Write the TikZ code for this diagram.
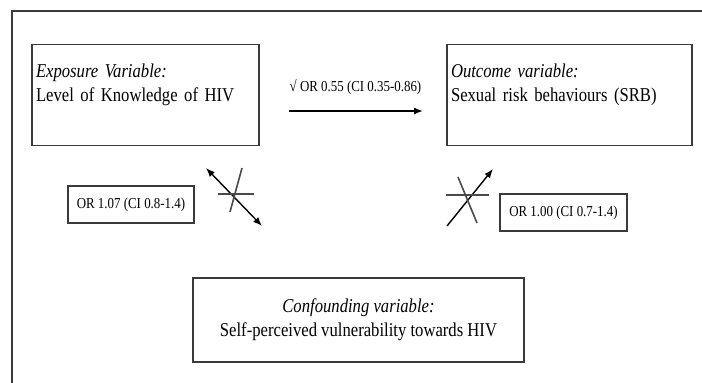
\documentclass[tikz,border=0pt]{standalone}
\usepackage{fontspec}
\setmainfont[FakeStretch=0.85]{Liberation Serif}
\usetikzlibrary{arrows.meta}
\definecolor{boxline}{HTML}{3A3A3A}
\definecolor{crossline}{HTML}{4A4A4A}
\tikzset{
  varbox/.style={draw=boxline, line width=1.2pt, inner xsep=4pt, inner ysep=0pt,
    font=\fontsize{19.6}{24}\selectfont},
  orbox/.style={draw=boxline, line width=1.2pt, inner sep=0pt,
    font=\fontsize{15.2}{17}\selectfont},
  orlabel/.style={inner sep=0pt, font=\fontsize{15.2}{17}\selectfont},
  arr/.style={-{Latex[length=9pt,width=7pt]}, line width=1.4pt},
  darr/.style={{Latex[length=9pt,width=7pt]}-{Latex[length=9pt,width=7pt]}, line width=1.4pt},
  nocross/.style={draw=crossline, line width=1.6pt},
  frameline/.style={draw=boxline, line width=1.2pt}
}
\begin{document}
\begin{tikzpicture}[x=1pt,y=-1pt]
\useasboundingbox (0,0) rectangle (702,383);
\fill[white] (0,0) rectangle (702,383);
% outer frame (top and left edges)
\coordinate (ftr) at (702,11);
\coordinate (ftl) at (12,11);
\coordinate (fbl) at (12,383);
\draw[frameline] (ftr) -- (ftl) -- (fbl);

% variable boxes
\node[varbox, minimum width=227pt, minimum height=101pt, text width=219pt, align=left]
  (expo) at (145.5,95) {\textit{Exposure Variable:}\\Level of Knowledge of HIV\\\mbox{}};
\node[varbox, minimum width=245pt, minimum height=101pt, text width=237pt, align=left]
  (outc) at (569.5,95) {\textit{Outcome variable:}\\Sexual risk behaviours (SRB)\\\mbox{}};
\node[varbox, minimum width=331pt, minimum height=84pt, align=center]
  (conf) at (358.5,320) {\textit{Confounding variable:}\\Self-perceived vulnerability towards HIV};

% OR boxes
\node[orbox, minimum width=126pt, minimum height=37pt] (orl) at (131,204.5) {OR 1.07 (CI 0.8-1.4)};
\node[orbox, minimum width=127pt, minimum height=37pt] (orr) at (563.5,212.5) {OR 1.00 (CI 0.7-1.4)};

% main arrow and its label
\node[orlabel] (orm) at (355.5,87) {√ OR 0.55 (CI 0.35-0.86)};
\coordinate (ma) at (289,111);
\coordinate (mb) at (423,111);
\draw[arr] (ma) -- (mb);

% left crossed double arrow
\coordinate (la) at (206,168);
\coordinate (lb) at (262,226);
\draw[darr] (la) -- (lb);
\coordinate (lh1) at (218,194);
\coordinate (lh2) at (254,194);
\coordinate (ls1) at (242,168);
\coordinate (ls2) at (230,212);
\draw[nocross] (lh1) -- (lh2);
\draw[nocross] (ls1) -- (ls2);

% right crossed arrow
\coordinate (ra) at (447,226);
\coordinate (rb) at (493,169);
\draw[arr] (ra) -- (rb);
\coordinate (rh1) at (446,195);
\coordinate (rh2) at (489,195);
\coordinate (rs1) at (458,177);
\coordinate (rs2) at (477,223);
\draw[nocross] (rh1) -- (rh2);
\draw[nocross] (rs1) -- (rs2);
\end{tikzpicture}
\end{document}
